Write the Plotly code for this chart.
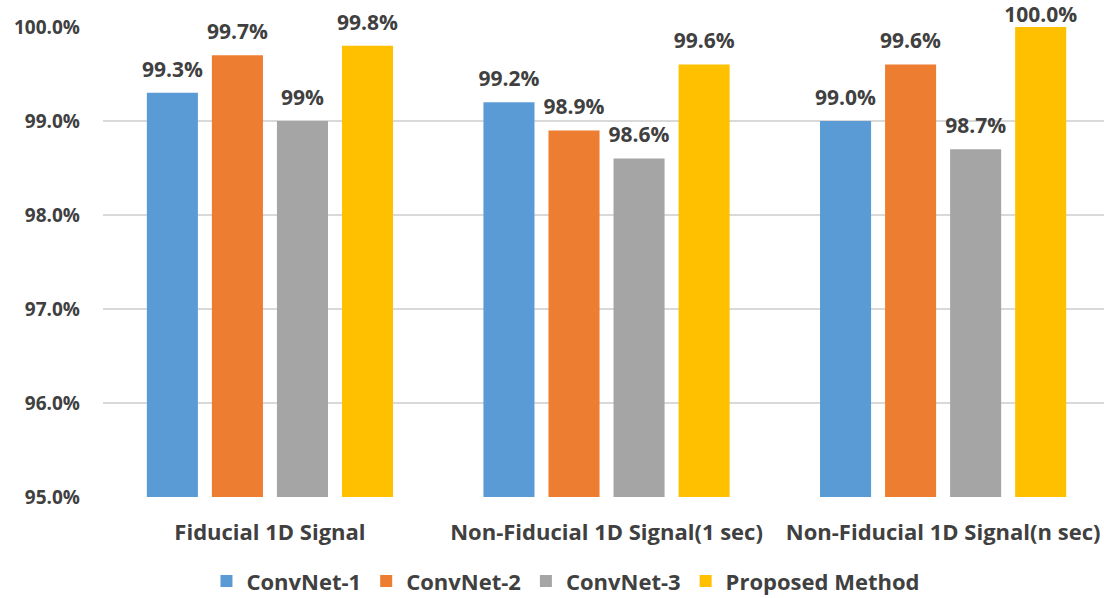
import plotly.graph_objects as go

categories = ["Fiducial 1D Signal", "Non-Fiducial 1D Signal(1 sec)", "Non-Fiducial 1D Signal(n sec)"]
series_names = ["ConvNet-1", "ConvNet-2", "ConvNet-3", "Proposed Method"]
convnet1 = [99.3, 99.2, 99.0]
convnet2 = [99.7, 98.9, 99.6]
convnet3 = [99.0, 98.6, 98.7]
proposed = [99.8, 99.6, 100.0]
convnet1_labels = ["99.3%", "99.2%", "99.0%"]
convnet2_labels = ["99.7%", "98.9%", "99.6%"]
convnet3_labels = ["99%", "98.6%", "98.7%"]
proposed_labels = ["99.8%", "99.6%", "100.0%"]
y_ticks = [95, 96, 97, 98, 99, 100]
y_tick_labels = ["95.0%", "96.0%", "97.0%", "98.0%", "99.0%", "100.0%"]

Y_MIN, Y_MAX = 95, 100
BARGAP = 0.227
colors = ["#5B9BD5", "#ED7D31", "#A5A5A5", "#FFC000"]
FONT = "'Open Sans', sans-serif"
TEXT_COLOR = "#404040"

fig = go.Figure()
all_vals = [convnet1, convnet2, convnet3, proposed]
all_labels = [convnet1_labels, convnet2_labels, convnet3_labels, proposed_labels]
xs = list(range(len(categories)))

for k, (name, vals, col) in enumerate(zip(series_names, all_vals, colors)):
    fig.add_trace(go.Bar(
        name=name,
        x=xs,
        y=vals,
        offsetgroup=str(k),
        marker=dict(color=col, line=dict(width=0)),
    ))

# value labels: scatter traces grouped the same way as the bars, with
# invisible markers whose size sets the gap between bar top and label
# (no gap for bars that reach the top of the axis)
for k, (vals, labels) in enumerate(zip(all_vals, all_labels)):
    fig.add_trace(go.Scatter(
        x=xs,
        y=vals,
        mode="markers+text",
        offsetgroup=str(k),
        text=[f"<b>{t}</b>" for t in labels],
        textposition="top center",
        textfont=dict(family=FONT, size=21, color=TEXT_COLOR),
        marker=dict(size=[0 if v >= Y_MAX - 0.05 else 16 for v in vals],
                    color="rgba(0,0,0,0)", opacity=0,
                    line=dict(width=0, color="rgba(0,0,0,0)")),
        cliponaxis=False,
        showlegend=False,
        hoverinfo="skip",
    ))

fig.update_layout(
    width=1104,
    height=598,
    margin=dict(l=103, r=0, t=27, b=101, autoexpand=False),
    plot_bgcolor="white",
    paper_bgcolor="white",
    barmode="group",
    bargap=BARGAP,
    bargroupgap=0.215,
    scattermode="group",
    scattergap=BARGAP,
    font=dict(family=FONT, color=TEXT_COLOR),
    legend=dict(
        orientation="h",
        x=0.462, xref="paper", xanchor="center",
        y=-0.179, yanchor="middle",
        font=dict(family=FONT, size=22, color=TEXT_COLOR, weight="bold"),
        itemsizing="constant",
        traceorder="normal",
    ),
    xaxis=dict(
        tickmode="array",
        tickvals=xs,
        ticktext=[f"<b>{c}</b>" for c in categories],
        tickfont=dict(family=FONT, size=22, color=TEXT_COLOR),
        range=[-0.496, 2.478],
        showgrid=False,
        zeroline=False,
        showline=False,
        ticks="",
        ticklabelstandoff=20,
    ),
    yaxis=dict(
        range=[Y_MIN, Y_MAX],
        tickmode="array",
        tickvals=y_ticks,
        ticktext=[f"<b>{t}</b>" for t in y_tick_labels],
        tickfont=dict(family=FONT, size=19, color=TEXT_COLOR),
        showgrid=True,
        gridcolor="#D9D9D9",
        gridwidth=2,
        zeroline=False,
        showline=False,
        ticks="",
        ticklabelstandoff=22,
    ),
)

fig.write_html("out.html")
